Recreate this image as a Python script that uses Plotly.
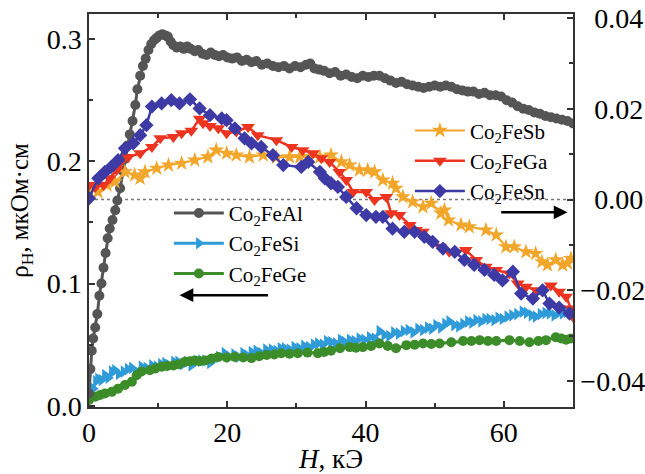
import plotly.graph_objects as go

# ---------------- data (H in kOe) ----------------
al_x = [0.0,0.2,0.4,0.6,0.9,1.2,1.5,1.8,2.1,2.4,2.7,3.0,3.4,3.8,4.1,4.5,4.9,5.2,5.6,5.9,6.3,6.7,7.0,7.4,7.8,8.2,8.6,9.0,9.4,9.8,
        10.2,10.6,11.0,11.4,11.8,12.2,12.7,13.2,13.7,14.2,14.7,15.3,15.8,16.4,17.0,17.6,18.2,18.8,19.4,20.0,20.7,21.4,22.1,22.8,
        23.5,24.2,25.0,25.8,26.6,27.4,28.2,29.0,29.8,30.6,31.4,32.0,32.6,33.3,34.0,34.8,35.6,36.4,37.2,38.0,38.8,39.6,40.4,41.2,
        42.0,42.8,43.6,44.4,45.2,46.0,46.8,47.6,48.4,49.2,50.0,50.8,51.6,52.4,53.2,54.0,54.8,55.6,56.4,57.2,58.0,58.8,59.6,60.4,
        61.2,62.0,62.8,63.6,64.4,65.2,66.0,66.8,67.6,68.4,69.2,70.0]
al_y = [0.010,0.030,0.045,0.055,0.064,0.075,0.090,0.100,0.113,0.125,0.137,0.145,0.152,0.160,0.168,0.178,0.192,0.202,0.213,0.222,
        0.233,0.246,0.259,0.270,0.278,0.284,0.291,0.296,0.299,0.301,0.303,0.304,0.303,0.302,0.298,0.295,0.293,0.294,0.292,0.294,
        0.292,0.290,0.291,0.288,0.287,0.289,0.287,0.286,0.287,0.285,0.284,0.285,0.282,0.283,0.281,0.282,0.279,0.280,0.278,0.277,
        0.278,0.276,0.278,0.277,0.279,0.280,0.276,0.275,0.274,0.272,0.273,0.270,0.271,0.269,0.268,0.270,0.269,0.270,0.270,0.268,
        0.266,0.264,0.265,0.263,0.262,0.261,0.260,0.261,0.262,0.261,0.262,0.261,0.259,0.258,0.257,0.257,0.255,0.256,0.254,0.254,
        0.253,0.250,0.248,0.245,0.243,0.242,0.240,0.239,0.237,0.236,0.235,0.234,0.233,0.231]

si_x = [0.0,0.6,1.0,1.3,1.8,2.3,2.8,3.3,3.75,4.3,5.0,5.6,6.2,6.8,7.6,8.3,9.1,9.8,10.4,11.0,11.6,12.3,12.9,13.6,14.2,14.8,15.5,
        16.2,16.8,17.5,18.1,18.8,19.6,20.3,21.0,21.6,22.3,22.9,23.5,24.2,24.9,25.6,26.4,27.1,27.7,28.3,29.0,29.7,30.4,31.1,31.8,
        32.5,33.1,33.8,34.4,35.0,35.7,36.4,37.0,37.7,38.4,39.1,39.8,40.6,41.3,42.0,42.7,43.4,44.1,44.8,45.5,46.2,46.9,47.6,48.3,
        49.0,49.6,50.2,50.9,51.5,52.1,52.8,53.5,54.1,54.8,55.4,56.0,56.7,57.3,57.9,58.6,59.2,59.8,60.5,61.2,61.9,62.7,63.3,64.0,
        64.6,65.3,66.0,66.6,67.3,67.9,68.5,69.1,69.6,70.0]
si_y = [0.009,0.014,0.020,0.022,0.021,0.025,0.023,0.028,0.029,0.026,0.028,0.030,0.031,0.028,0.032,0.031,0.033,0.032,0.034,0.035,
        0.033,0.036,0.036,0.034,0.036,0.033,0.036,0.037,0.037,0.035,0.038,0.040,0.043,0.040,0.042,0.040,0.043,0.041,0.044,0.045,
        0.043,0.046,0.046,0.045,0.047,0.047,0.046,0.048,0.047,0.049,0.048,0.050,0.051,0.050,0.053,0.052,0.051,0.054,0.052,0.054,
        0.053,0.055,0.054,0.056,0.055,0.061,0.058,0.057,0.060,0.059,0.061,0.062,0.060,0.063,0.062,0.064,0.063,0.066,0.064,0.067,
        0.069,0.066,0.065,0.067,0.069,0.068,0.070,0.069,0.071,0.071,0.070,0.072,0.071,0.073,0.074,0.075,0.077,0.076,0.074,0.073,
        0.075,0.076,0.0755,0.074,0.076,0.0755,0.077,0.076,0.077]

ge_x = [0.0,0.9,1.6,2.3,3.3,4.2,5.2,6.2,6.9,7.6,8.8,9.6,10.5,11.3,12.2,13.0,13.9,14.6,15.3,16.0,16.8,17.7,18.7,19.9,21.1,22.3,
        23.5,24.6,25.7,26.8,27.8,29.0,30.2,31.6,33.1,34.0,35.0,36.3,37.7,38.6,39.6,40.8,42.0,43.2,44.4,45.9,47.1,48.3,49.5,50.7,
        52.4,54.1,55.3,56.5,57.7,58.9,60.8,62.3,63.7,65.0,66.1,67.5,68.3,69.0,69.7]
ge_y = [0.0047,0.0074,0.0088,0.0100,0.0114,0.0140,0.0170,0.0196,0.0250,0.0280,0.0290,0.0305,0.0320,0.0325,0.0330,0.0340,0.0360,
        0.0365,0.0370,0.0365,0.0370,0.0385,0.0400,0.0395,0.0400,0.0395,0.0390,0.0405,0.0415,0.0420,0.0430,0.0425,0.0430,0.0435,
        0.0430,0.0440,0.0450,0.0470,0.0480,0.0475,0.0480,0.0490,0.0510,0.0490,0.0470,0.0496,0.0500,0.0510,0.0505,0.0510,0.0520,
        0.0530,0.0530,0.0537,0.0530,0.0530,0.0537,0.0530,0.0520,0.0530,0.0537,0.0560,0.0550,0.0540,0.0550]

sb_x = [0.0,1.3,2.6,3.75,5.2,6.6,7.4,8.1,9.8,11.5,13.4,15.3,17.2,18.4,19.9,21.3,23.2,25.2,27.1,29.0,30.5,31.9,33.4,35.0,36.5,
        37.7,39.1,40.3,41.3,42.5,43.9,44.4,45.4,46.8,48.3,49.5,50.9,51.4,52.0,53.8,55.0,57.4,58.9,60.3,61.5,63.2,64.6,65.5,66.3,
        67.5,68.5,69.2,69.7]
sb_y = [0.0021,0.0017,0.0032,0.0039,0.0061,0.0054,0.0047,0.0061,0.0069,0.0076,0.0080,0.0087,0.0094,0.0109,0.0102,0.0098,0.0094,
        0.0098,0.0093,0.0094,0.0094,0.0094,0.0094,0.0098,0.0083,0.0076,0.0065,0.0065,0.0061,0.0043,0.0036,0.0025,0.0006,-0.0005,
        -0.0016,-0.0008,-0.0030,-0.0023,-0.0045,-0.0056,-0.0060,-0.0067,-0.0078,-0.0104,-0.0104,-0.0115,-0.0119,-0.0137,-0.0144,
        -0.0133,-0.0144,-0.0140,-0.0130]

ga_x = [0.0,0.9,2.1,3.0,4.0,5.7,7.4,9.1,10.3,12.2,13.4,14.8,16.0,16.5,17.5,18.7,19.9,21.3,23.0,24.4,27.1,29.3,30.9,32.4,33.6,
        34.8,36.2,37.2,38.2,40.1,41.3,43.0,43.7,44.9,46.4,47.3,48.3,50.8,52.1,54.5,56.0,57.4,58.9,60.8,62.0,63.2,64.7,66.8,68.0,
        69.0,69.7,70.0]
ga_y = [0.0032,0.0028,0.0032,0.0047,0.0065,0.0094,0.0102,0.0116,0.0135,0.0138,0.0146,0.0152,0.0178,0.0168,0.0162,0.0157,0.0146,
        0.0150,0.0160,0.0142,0.0131,0.0116,0.0109,0.0102,0.0091,0.0083,0.0061,0.0043,0.0017,0.0017,-0.0001,0.0006,-0.0030,-0.0034,
        -0.0056,-0.0067,-0.0071,-0.0104,-0.0115,-0.0111,-0.0133,-0.0148,-0.0155,-0.0163,-0.0185,-0.0192,-0.0200,-0.0189,-0.0203,
        -0.0214,-0.0240,-0.0258]

sn_x = [0.0,1.35,2.3,3.2,4.2,5.2,6.4,7.4,8.3,9.1,10.5,11.9,13.1,14.6,16.0,17.5,19.2,19.9,21.1,22.5,23.5,24.9,26.6,28.1,30.7,
        31.7,33.4,34.1,35.0,36.0,37.2,38.7,40.1,41.5,42.5,43.9,45.6,47.1,48.5,49.7,51.2,52.9,54.3,55.7,57.2,58.6,59.8,61.3,62.5,
        64.2,65.6,66.6,68.0,69.5]
sn_y = [0.0003,0.0047,0.0061,0.0072,0.0087,0.0113,0.0124,0.0142,0.0164,0.0205,0.0212,0.0219,0.0212,0.0221,0.0201,0.0186,0.0179,
        0.0175,0.0157,0.0135,0.0124,0.0116,0.0098,0.0076,0.0072,0.0083,0.0061,0.0047,0.0036,0.0028,0.0006,-0.0019,-0.0034,-0.0038,
        -0.0038,-0.0064,-0.0071,-0.0071,-0.0082,-0.0093,-0.0108,-0.0115,-0.0133,-0.0144,-0.0155,-0.0166,-0.0178,-0.0159,-0.0207,
        -0.0218,-0.0200,-0.0229,-0.0238,-0.0251]

left_ticks = [0.0, 0.1, 0.2, 0.3]
right_ticks = [0.04, 0.02, 0.0, -0.02, -0.04]
right_ticktext = ["\u20070.04", "\u20070.02", "\u20070.00", "\u22120.02", "\u22120.04"]
x_ticks = [0, 20, 40, 60]

FONT = "Liberation Serif, Times New Roman, serif"

fig = go.Figure()

def add(x, y, name, color, symbol, size, axis, legend, lw=2):
    fig.add_trace(go.Scatter(
        x=x, y=y, name=name, mode="lines+markers", yaxis=axis, legend=legend,
        line=dict(color=color, width=lw),
        marker=dict(color=color, symbol=symbol, size=size, line=dict(width=0)),
    ))

add(sb_x, sb_y, "Co<sub>2</sub>FeSb", "#f2a62a", "star", 12, "y2", "legend2")
add(ga_x, ga_y, "Co<sub>2</sub>FeGa", "#ec3420", "triangle-down", 12, "y2", "legend2", 2.5)
add(sn_x, sn_y, "Co<sub>2</sub>FeSn", "#3d3aa6", "diamond", 11, "y2", "legend2", 2.5)
add(si_x, si_y, "Co<sub>2</sub>FeSi", "#2f9cd9", "triangle-right", 11, "y", "legend", 3)
add(ge_x, ge_y, "Co<sub>2</sub>FeGe", "#3c8c2a", "circle", 10, "y", "legend", 3)
add(al_x, al_y, "Co<sub>2</sub>FeAl", "#555555", "circle", 10, "y", "legend", 3)

order = {"Co<sub>2</sub>FeAl": 1, "Co<sub>2</sub>FeSi": 2, "Co<sub>2</sub>FeGe": 3,
         "Co<sub>2</sub>FeSb": 1, "Co<sub>2</sub>FeGa": 2, "Co<sub>2</sub>FeSn": 3}
for tr in fig.data:
    tr.legendrank = order[tr.name]

# dotted zero line of the right axis
fig.add_shape(type="line", xref="x", yref="y2", x0=0, x1=70, y0=0, y1=0,
              line=dict(color="#777777", width=1.5, dash="dot"), layer="below")

# arrows
fig.add_annotation(x=13.1, y=0.0905, ax=26.1, ay=0.0905, xref="x", yref="y", axref="x", ayref="y",
                   text="", showarrow=True, arrowhead=2, arrowsize=1.1, arrowwidth=2.5, arrowcolor="black")
fig.add_annotation(x=69.2, y=-0.0028, ax=59.4, ay=-0.0028, xref="x", yref="y2", axref="x", ayref="y2",
                   text="", showarrow=True, arrowhead=2, arrowsize=1.1, arrowwidth=2.5, arrowcolor="black")

axis_common = dict(showline=True, linecolor="#333333", linewidth=1.5, ticks="inside", tickcolor="#333333",
                   tickwidth=1.5, ticklen=6, showgrid=False, zeroline=False, automargin=False,
                   tickfont=dict(family=FONT, size=28, color="black"))

fig.update_layout(
    width=645, height=474,
    margin=dict(l=89, r=72, t=14, b=67),
    paper_bgcolor="white", plot_bgcolor="white",
    font=dict(family=FONT, color="black"),
    xaxis=dict(range=[0, 70], tickvals=x_ticks, mirror="ticks",
               minor=dict(dtick=10, tick0=0, ticks="inside", ticklen=4, tickcolor="#333333", tickwidth=1.5),
               title=dict(text="<i>H</i>, кЭ", font=dict(family=FONT, size=27), standoff=2),
               **axis_common),
    yaxis=dict(range=[-0.001, 0.3205], tickvals=left_ticks, tickformat=".1f",
               minor=dict(dtick=0.05, tick0=0, ticks="inside", ticklen=4, tickcolor="#333333", tickwidth=1.5),
               title=dict(text="ρ<sub>H</sub>, мкОм·см", font=dict(family=FONT, size=25), standoff=11),
               **axis_common),
    yaxis2=dict(range=[-0.0457, 0.0409], overlaying="y", side="right", tickvals=right_ticks,
                ticktext=right_ticktext,
                minor=dict(dtick=0.01, tick0=0, ticks="inside", ticklen=4, tickcolor="#333333", tickwidth=1.5),
                **axis_common),
    legend=dict(x=0.165, y=0.545, xanchor="left", yanchor="top", bgcolor="rgba(0,0,0,0)",
                font=dict(family=FONT, size=21), itemwidth=50, tracegroupgap=0),
    legend2=dict(x=0.663, y=0.755, xanchor="left", yanchor="top", bgcolor="rgba(0,0,0,0)",
                 font=dict(family=FONT, size=21), itemwidth=50, tracegroupgap=0),
)

fig.write_html("out.html")
